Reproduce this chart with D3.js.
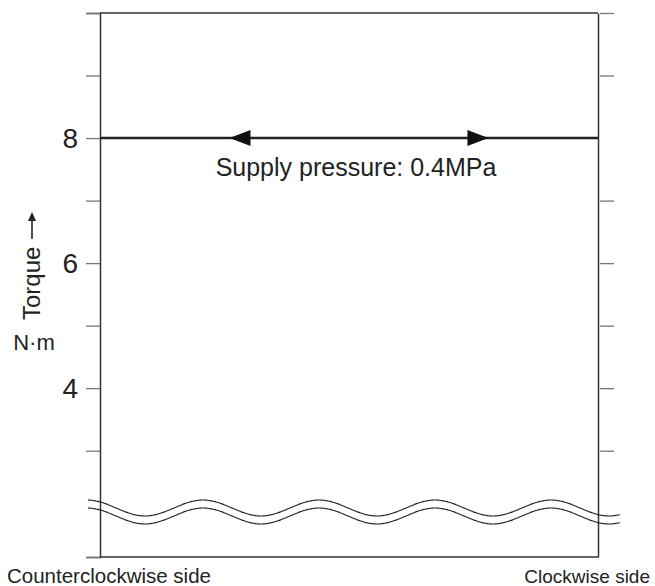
<!DOCTYPE html>
<html lang="en">
<head>
  <meta charset="utf-8">
  <title>Torque chart</title>
  <script src="https://d3js.org/d3.v7.min.js"></script>
  <style>
  body { margin: 0; background: #fff; }
  text { font-family: "Liberation Sans", Arial, sans-serif; fill: #222; }
  </style>
</head>
<body>
<script>

// values
var pressureLabel = "Supply pressure: 0.4MPa";
var torqueLevel = [8];
var tickValues = [10, 9, 8, 7, 6, 5, 4, 3];
var tickLabels = [8, 6, 4];
var sideLabels = ["Counterclockwise side", "Clockwise side"];
var arrowAt = [0.26, 0.78];   // arrow tips as fraction of the plot width

var width = 655, height = 586;
var margin = {top: 13, right: 57, bottom: 29, left: 100};
var plotW = width - margin.left - margin.right,
    plotH = height - margin.top - margin.bottom;

var y = d3.scaleLinear()
    .domain([1.3, 10])
    .range([plotH, 0]);

var x = d3.scaleLinear()
    .domain([0, 1])
    .range([0, plotW]);

var svg = d3.select("body").append("svg")
    .attr("width", width)
    .attr("height", height)
  .append("g")
    .attr("transform", "translate(" + margin.left + "," + margin.top + ")");

// left axis
var left = svg.append("g")
    .call(d3.axisLeft(y).tickValues(tickValues.concat([1.3])).tickSize(14).tickFormat(""));
left.select(".domain").attr("stroke", "#333").attr("stroke-width", 1.5);
left.selectAll(".tick line").attr("stroke", "#777").attr("stroke-width", 1.3);

// right axis (no tick under the torque line)
var right = svg.append("g")
    .attr("transform", "translate(" + plotW + ",0)")
    .call(d3.axisRight(y).tickValues(tickValues.filter(function(d) { return d != 8; }))
      .tickSize(16).tickPadding(0).tickFormat("").tickSizeOuter(0));
right.select(".domain").attr("stroke", "#333").attr("stroke-width", 1.5);
right.selectAll(".tick line").attr("stroke", "#777").attr("stroke-width", 1.3)
    .attr("x1", 2);

// top and bottom border
svg.append("line").attr("x1", 0).attr("x2", plotW).attr("y1", 0).attr("y2", 0)
    .attr("stroke", "#333").attr("stroke-width", 1.3);
svg.append("line").attr("x1", 0).attr("x2", plotW).attr("y1", plotH).attr("y2", plotH)
    .attr("stroke", "#333").attr("stroke-width", 1.3);

// tick labels
svg.selectAll(".ylab")
    .data(tickLabels)
  .enter().append("text")
    .attr("class", "ylab")
    .attr("x", -22)
    .attr("y", function(d) { return y(d); })
    .attr("dy", "0.36em")
    .attr("text-anchor", "end")
    .style("font-size", "28px")
    .text(function(d) { return d; });

// torque line
svg.selectAll(".level")
    .data(torqueLevel)
  .enter().append("line")
    .attr("class", "level")
    .attr("x1", 0).attr("x2", plotW)
    .attr("y1", function(d) { return y(d); })
    .attr("y2", function(d) { return y(d); })
    .attr("stroke", "#222")
    .attr("stroke-width", 2.6);

// arrowheads
svg.selectAll(".arrow")
    .data(arrowAt)
  .enter().append("path")
    .attr("class", "arrow")
    .attr("fill", "#111")
    .attr("d", function(d, i) {
      var tx = x(d), ty = y(torqueLevel[0]);
      var dir = i == 0 ? 1 : -1;
      return "M" + tx + "," + ty + "L" + (tx + dir * 21) + "," + (ty - 8) +
             "L" + (tx + dir * 21) + "," + (ty + 8) + "Z";
    });

svg.append("text")
    .attr("x", 356 - margin.left)
    .attr("y", y(torqueLevel[0]) + 38)
    .attr("text-anchor", "middle")
    .style("font-size", "25px")
    .text(pressureLabel);

// axis title, rotated, with a long arrow drawn as a line
svg.append("text")
    .attr("transform", "translate(-60," + 307 + ") rotate(-90)")
    .style("font-size", "24px")
    .text("Torque");
svg.append("line")
    .attr("x1", -68).attr("x2", -68)
    .attr("y1", 226).attr("y2", 204)
    .attr("stroke", "#222").attr("stroke-width", 1.6);
svg.append("path")
    .attr("d", "M-68,199L-72,208L-64,208Z")
    .attr("fill", "#222");
svg.append("text")
    .attr("x", -66)
    .attr("y", 337)
    .attr("text-anchor", "middle")
    .style("font-size", "22px")
    .text("N\u00b7m");

// axis break: two wavy lines
var waveY = y(1.3) - 49, period = 116, amp = 8, phase = 203 - margin.left;
var xs = d3.range(-12, plotW + 23, 2);
var wave = d3.line()
    .x(function(d) { return d; })
    .curve(d3.curveBasis);
[0, 8].forEach(function(off) {
  svg.append("path")
      .datum(xs)
      .attr("fill", "none")
      .attr("stroke", "#222")
      .attr("stroke-width", 1.1)
      .attr("d", wave.y(function(d) {
        return waveY + off - amp * Math.cos(2 * Math.PI * (d - phase) / period);
      }));
});

// side labels
svg.append("text")
    .attr("x", 7 - margin.left)
    .attr("y", plotH + 26)
    .style("font-size", "20.5px")
    .text(sideLabels[0]);
svg.append("text")
    .attr("x", 650 - margin.left)
    .attr("y", plotH + 26)
    .attr("text-anchor", "end")
    .style("font-size", "19px")
    .text(sideLabels[1]);

</script>
</body>
</html>
